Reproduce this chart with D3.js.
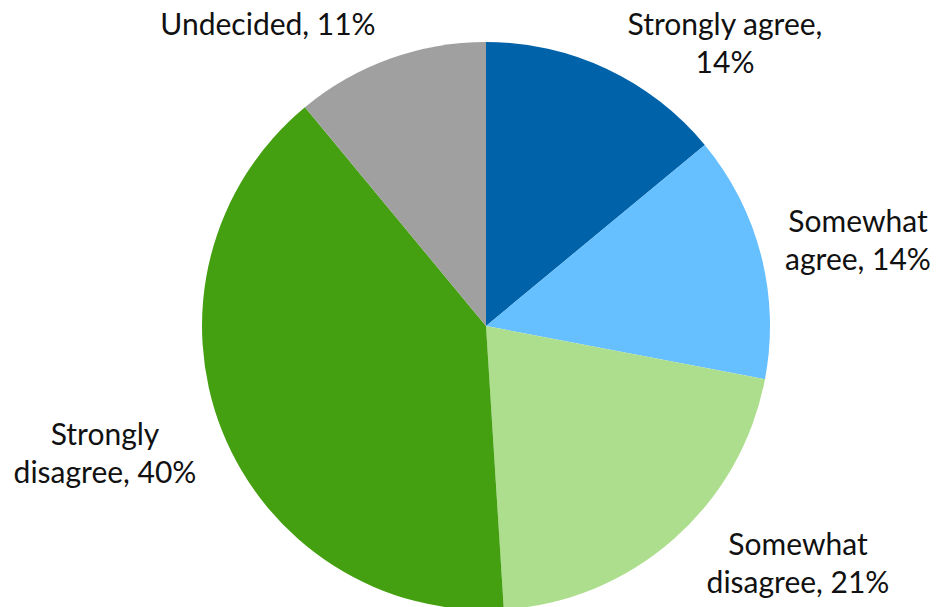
<!DOCTYPE html>
<html>
<head>
<meta charset="utf-8">
<script src="https://cdn.jsdelivr.net/npm/d3@7"></script>
<style>
  html, body { margin: 0; padding: 0; background: #fff; }
  svg { display: block; }
  text { font-family: Lato, "Open Sans", sans-serif; fill: #111; }
</style>
</head>
<body>
<svg id="chart" width="936" height="607"></svg>
<script>
// Survey responses (percent of respondents)
const categories = ["Strongly agree", "Somewhat agree", "Somewhat disagree", "Strongly disagree", "Undecided"];
const values = [14, 14, 21, 40, 11];
const colors = ["#0063A9", "#66BFFF", "#ADDE8D", "#44A010", "#A0A0A0"];

// Label text lines for each slice
const labelLines = [
  ["Strongly agree,", "14%"],
  ["Somewhat", "agree, 14%"],
  ["Somewhat", "disagree, 21%"],
  ["Strongly", "disagree, 40%"],
  ["Undecided, 11%"]
];
// Label anchor (centre of first line baseline), relative to pie centre
const labelPos = [
  [239, -291],
  [372, -94],
  [312, 229],
  [-381, 119],
  [-218, -291]
];

const width = 936, height = 607;
const cx = 486, cy = 326, radius = 284;

const svg = d3.select("#chart");
const g = svg.append("g").attr("transform", `translate(${cx},${cy})`);

const data = categories.map((c, i) => ({ category: c, value: values[i], color: colors[i], i }));

const pie = d3.pie().value(d => d.value).sort(null);
const arc = d3.arc().innerRadius(0).outerRadius(radius);

const arcs = pie(data);

g.selectAll("path.slice")
  .data(arcs)
  .join("path")
  .attr("class", "slice")
  .attr("d", arc)
  .attr("fill", d => d.data.color);

const lineHeight = 38;
const labels = g.selectAll("text.label")
  .data(arcs)
  .join("text")
  .attr("class", "label")
  .attr("text-anchor", "middle")
  .attr("font-size", 30)
  .attr("transform", d => `translate(${labelPos[d.data.i][0]},${labelPos[d.data.i][1]})`);

labels.each(function(d) {
  const t = d3.select(this);
  labelLines[d.data.i].forEach((line, k) => {
    t.append("tspan").attr("x", 0).attr("y", k * lineHeight).text(line);
  });
});
</script>
</body>
</html>
